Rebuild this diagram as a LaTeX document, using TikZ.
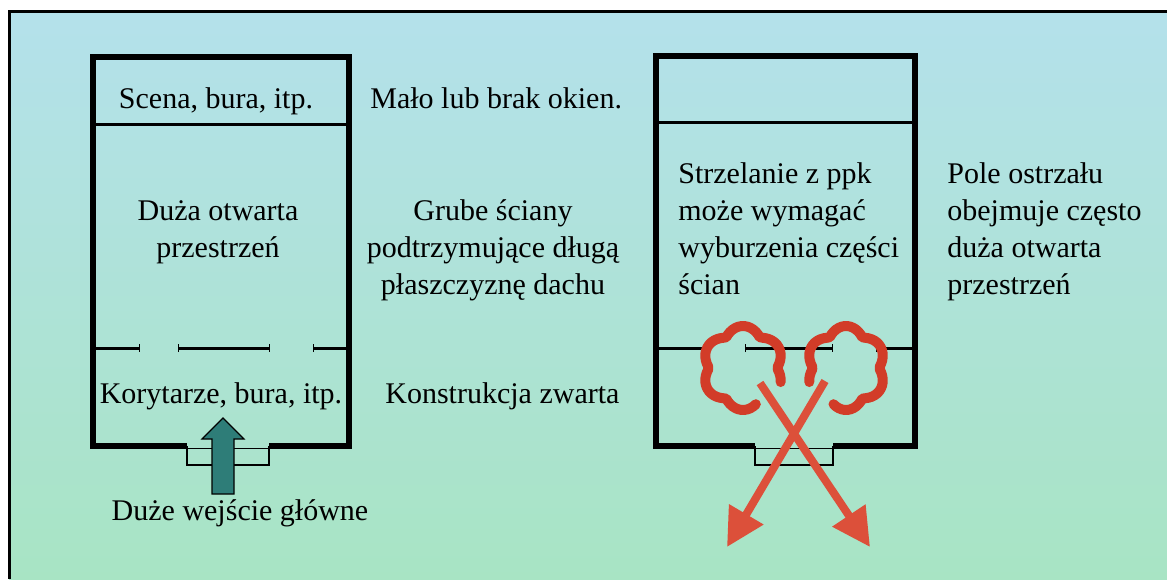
\documentclass[tikz,border=0pt]{standalone}
\usepackage{fontspec}
\setmainfont{Liberation Serif}
\usetikzlibrary{arrows.meta,positioning,calc}
\definecolor{bldgSky}{HTML}{B4E1EB}
\definecolor{bldgMid}{HTML}{B0E3DA}
\definecolor{bldgMint}{HTML}{A8E4C4}
\definecolor{bldgTeal}{HTML}{2E7D78}
\definecolor{bldgFire}{HTML}{D23C28}
\definecolor{bldgFlame}{HTML}{DC503A}

\begin{document}
\begin{tikzpicture}[x=0.5pt,y=-0.5pt,
    font=\fontsize{15}{18.5}\selectfont,
    wall/.style={line width=2.6pt,line join=miter},
    partition/.style={line width=1.5pt},
    doorway/.style={line width=1pt},
    note/.style={inner sep=0pt},
    fire/.style={draw=bldgFire,line width=5pt,line cap=round,line join=round},
    blast/.style={draw=bldgFlame,line width=4pt,-{Triangle[length=19pt,width=19pt]}}]
  \useasboundingbox (0,0) rectangle (1167,579);
  \shade[top color=bldgSky,middle color=bldgMid,bottom color=bldgMint] (9,12) rectangle (1167,579);
  \draw[line width=1.4pt] (9.5,579) -- (9.5,11.5) -- (1167,11.5);

  % hall with big entrance
  \draw[wall] (187,446) -- (93,446) -- (93,57) -- (349,57) -- (349,446) -- (269,446);
  \draw[partition] (93,124) -- (349,124);
  \draw[partition,-{Bar[width=4pt,line width=0.7pt]}] (93,348) -- (140,348);
  \draw[partition,{Bar[width=4pt,line width=0.7pt]}-{Bar[width=4pt,line width=0.7pt]}] (178,348) -- (270,348);
  \draw[partition,{Bar[width=4pt,line width=0.7pt]}-] (313,348) -- (349,348);
  \draw[doorway] (187,446) -- (187,465) -- (269,465) -- (269,446);
  \draw[line width=0.5pt] (187,448) -- (269,448);
  \draw[line width=0.6pt,fill=bldgTeal] (212,494) -- (212,439) -- (202,439) -- (223,418)
    -- (244,439) -- (234,439) -- (234,494) -- cycle;

  % multi-line notes sit on the baseline of their last line
  \node[note,anchor=base] (stage) at (216,108) {Scena, bura, itp.};
  \node[note,anchor=base west] (windows) at (370,108) {Mało lub brak okien.};
  \node[note,anchor=base,align=center] (hall) at (218,257) {Duża otwarta\\przestrzeń};
  \node[note,anchor=base,align=center] (walls) at (493,294)
    {Grube ściany\\podtrzymujące długą\\płaszczyznę dachu};
  \node[note,anchor=base] (corridors) at (221,403) {Korytarze, bura, itp.};
  \node[note,anchor=base west] (compact) at (385,403) {Konstrukcja zwarta};
  \node[note,anchor=base] (entrance) at (240,520) {Duże wejście główne};

  % hall under fire
  \draw[wall] (755,446) -- (656,446) -- (656,56) -- (915,56) -- (915,446) -- (833,446);
  \draw[partition] (656,122) -- (915,122);
  \draw[partition,-{Bar[width=4pt,line width=0.7pt]}] (656,348) -- (705,348);
  \draw[partition,{Bar[width=4pt,line width=0.7pt]}-{Bar[width=4pt,line width=0.7pt]}] (745,348) -- (833,348);
  \draw[partition,{Bar[width=4pt,line width=0.7pt]}-] (876,348) -- (915,348);
  \draw[doorway] (755,446) -- (755,465) -- (833,465) -- (833,446);
  \draw[line width=0.5pt] (755,448) -- (833,448);

  \node[note,anchor=base west,align=left] (atgm) at (678,294)
    {Strzelanie z ppk\\może wymagać\\wyburzenia części\\ścian};
  \node[note,anchor=base west,align=left] (field) at (947,294)
    {Pole ostrzału\\obejmuje często\\duża otwarta\\przestrzeń};

  % breaches in the wall
  \draw[fire] plot[smooth,domain=70:380,samples=70]
    ({743+(34+7*abs(sin(3*\x)))*cos(\x)},{368+(35+7*abs(sin(3*\x)))*sin(\x)});
  \draw[fire] plot[smooth,domain=160:470,samples=70]
    ({846+(33+7*abs(sin(3*\x)))*cos(\x)},{368+(35+7*abs(sin(3*\x)))*sin(\x)});

  \coordinate (shotA) at (760,383);
  \coordinate (hitA) at (870,547);
  \coordinate (shotB) at (825,381);
  \coordinate (hitB) at (727,547);
  \draw[blast] (shotA) -- (hitA);
  \draw[blast] (shotB) -- (hitB);
\end{tikzpicture}
\end{document}
